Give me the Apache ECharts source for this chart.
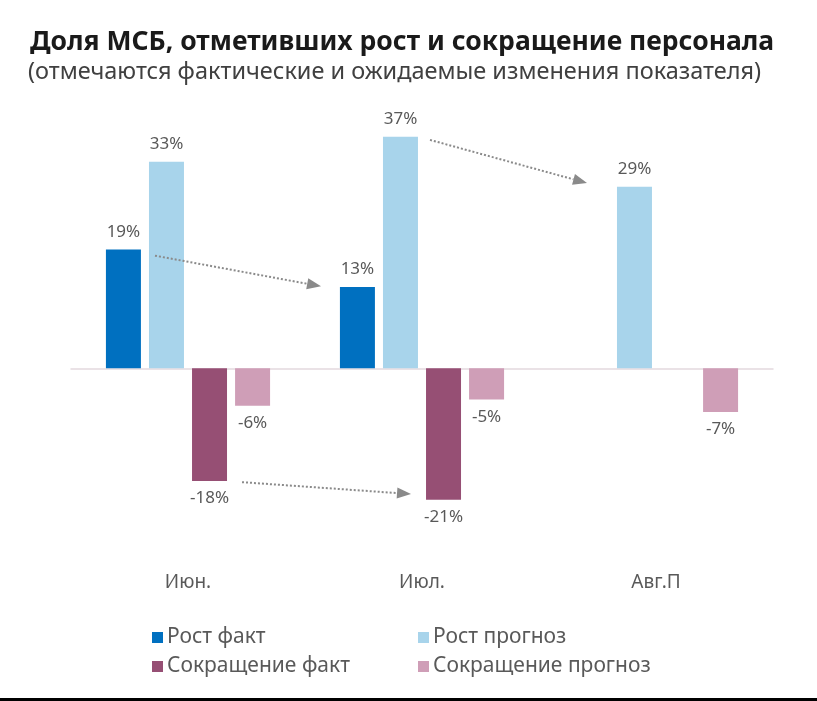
<!DOCTYPE html>
<html>
<head>
<meta charset="utf-8">
<script src="https://cdn.jsdelivr.net/npm/echarts@6/dist/echarts.min.js"></script>
<style>
html,body{margin:0;padding:0;background:#fff;}
#c{width:817px;height:701px;}
</style>
</head>
<body>
<div id="c"></div>
<script>
var categories = ['Июн.', 'Июл.', 'Авг.П'];
var seriesNames = ['Рост факт', 'Рост прогноз', 'Сокращение факт', 'Сокращение прогноз'];
var growthFact = [19, 13, null];
var growthForecast = [33, 37, 29];
var cutFact = [-18, -21, null];
var cutForecast = [-6, -5, -7];
var colors = ['#0070C0', '#A8D4EB', '#964F74', '#CF9EB7'];
// annotation arrows: [category index, pixel offset, value] from -> to
var arrows = [
  [[0, -33, 18.0], [1, -101, 13.1]],
  [[1, 8, 36.5], [2, -69, 29.6]],
  [[0, 54, -18.2], [1, -11, -20.1]]
];

var font = 'Noto Sans';
var chart = echarts.init(document.getElementById('c'), null, {renderer: 'canvas'});
var values = [growthFact, growthForecast, cutFact, cutForecast];

var series = values.map(function (d, i) {
  return {
    name: seriesNames[i],
    type: 'bar',
    data: d.map(function (v) {
      if (v === null) return null;
      return {value: v, label: {position: v >= 0 ? 'top' : 'bottom', distance: 9}};
    }),
    barWidth: 35,
    barGap: '23%',
    itemStyle: {color: colors[i]},
    label: {
      show: true,
      formatter: function (p) { return p.value + '%'; },
      color: '#595959',
      fontSize: 17,
      fontFamily: font
    }
  };
});

var legends = [[152, 627], [418, 627], [152, 656], [418, 656]].map(function (p, i) {
  return {
    data: [seriesNames[i]],
    left: p[0], top: p[1], padding: 0,
    icon: 'rect', itemWidth: 11, itemHeight: 11, itemGap: 0,
    selectedMode: false,
    textStyle: {color: '#595959', fontSize: 21, fontFamily: font, padding: [0, 0, 0, -1]}
  };
});

chart.setOption({
  animation: false,
  backgroundColor: '#fff',
  color: colors,
  title: [{
    text: 'Доля МСБ, отметивших рост и сокращение персонала',
    left: 30, top: 29, padding: 0,
    textStyle: {fontFamily: font, fontWeight: 'bold', fontSize: 26.5, color: '#1a1a1a'}
  }, {
    text: '(отмечаются фактические и ожидаемые изменения показателя)',
    left: 28, top: 60, padding: 0,
    textStyle: {fontFamily: font, fontWeight: 'normal', fontSize: 23.5, color: '#404040'}
  }],
  legend: legends,
  grid: {left: 71, right: 44, top: 118, bottom: 145, containLabel: false},
  xAxis: [{
    type: 'category', data: categories,
    axisLine: {show: true, onZero: true, lineStyle: {color: '#E3D9DE', width: 1.5}},
    axisTick: {show: false}, axisLabel: {show: false}
  }, {
    type: 'category', data: categories, position: 'bottom',
    axisLine: {show: false, onZero: false}, axisTick: {show: false},
    axisLabel: {color: '#595959', fontSize: 19, fontFamily: font, margin: 17}
  }],
  yAxis: {
    type: 'value', min: -30, max: 40, show: false,
    splitLine: {show: false}
  },
  series: series
});

function drawArrows() {
  var g = [];
  arrows.forEach(function (a) {
    var p = a.map(function (pt) {
      var xy = chart.convertToPixel({xAxisIndex: 0, yAxisIndex: 0}, [pt[0], pt[2]]);
      return [xy[0] + pt[1], xy[1]];
    });
    var dx = p[1][0] - p[0][0], dy = p[1][1] - p[0][1];
    var len = Math.sqrt(dx * dx + dy * dy);
    var ux = dx / len, uy = dy / len;
    var hl = 14, hw = 5.5;
    var bx = p[1][0] - ux * hl, by = p[1][1] - uy * hl;
    g.push({
      type: 'line', silent: true, z: 100,
      shape: {x1: p[0][0], y1: p[0][1], x2: bx, y2: by},
      style: {stroke: '#8a8a8a', lineWidth: 2, lineDash: [2, 2]}
    });
    g.push({
      type: 'polygon', silent: true, z: 100,
      shape: {points: [[p[1][0], p[1][1]], [bx - uy * hw, by + ux * hw], [bx + uy * hw, by - ux * hw]]},
      style: {fill: '#8a8a8a'}
    });
  });
  g.push({type: 'rect', silent: true, z: 100, shape: {x: 0, y: 698, width: 817, height: 3}, style: {fill: '#000'}});
  chart.setOption({graphic: g});
}
drawArrows();
</script>
</body>
</html>
